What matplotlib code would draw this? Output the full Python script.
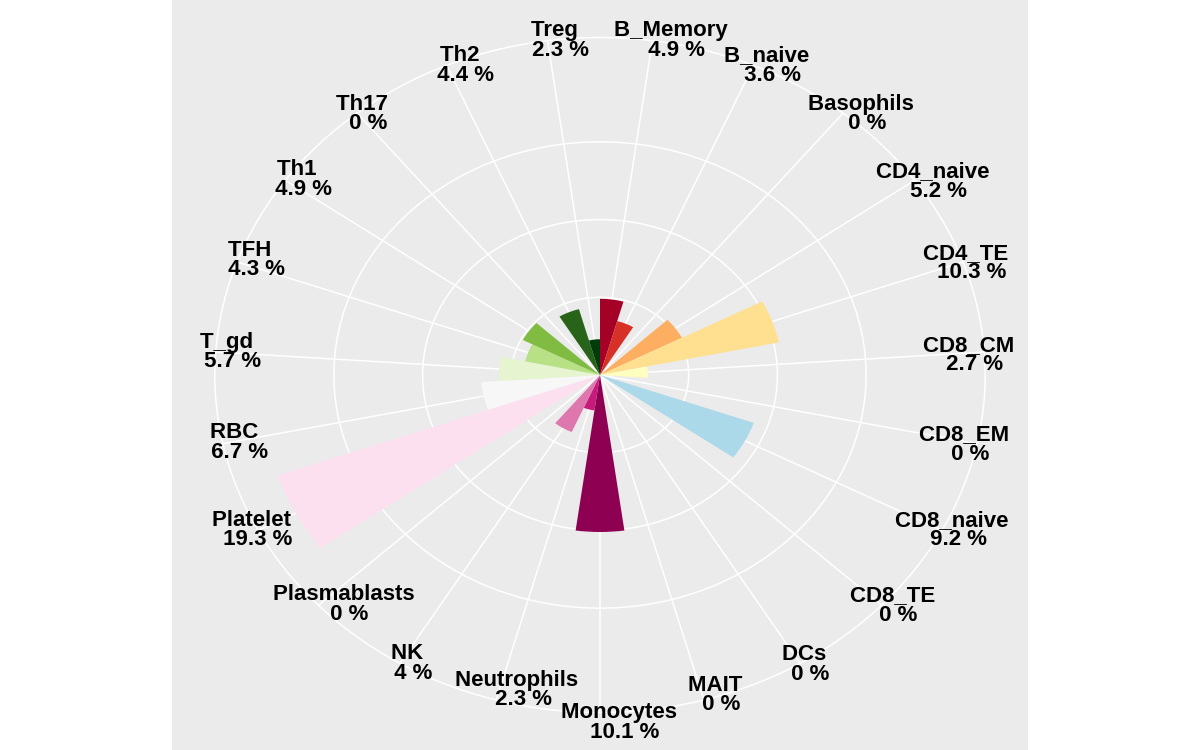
import numpy as np
import matplotlib
matplotlib.use("Agg")
import matplotlib.pyplot as plt
from matplotlib.transforms import offset_copy

categories = ["B_Memory", "B_naive", "Basophils", "CD4_naive", "CD4_TE", "CD8_CM",
              "CD8_EM", "CD8_naive", "CD8_TE", "DCs", "MAIT", "Monocytes",
              "Neutrophils", "NK", "Plasmablasts", "Platelet", "RBC", "T_gd",
              "TFH", "Th1", "Th17", "Th2", "Treg"]
percent = [4.9, 3.6, 0, 5.2, 10.3, 2.7, 0, 9.2, 0, 0, 0, 10.1,
           2.3, 4, 0, 19.3, 6.7, 5.7, 4.3, 4.9, 0, 4.4, 2.3]
colors = ["#A50026", "#D73027", "#F46D43", "#FDAE61", "#FEE090", "#FFFFBF",
          "#E0F3F8", "#ABD9E9", "#74ADD1", "#4575B4", "#313695",
          "#8E0152", "#C51B7D", "#DE77AE", "#F1B6DA", "#FDE0EF", "#F7F7F7",
          "#E6F5D0", "#B8E186", "#7FBC41", "#4D9221", "#276419", "#003D0B"]
r_breaks = [5, 10, 15]

# small pixel nudges of the labels (dx right, dy down), to follow the reference layout
label_nudge = [(21, 0), (16, 0), (21, 1), (21, 1), (6, 1), (-13, 3), (-10, 1),
               (13, 0), (14, 0), (7, 1), (14, -5), (22, 10), (24, -10), (10, 0),
               (28, -1), (-3, 0), (14, -1), (14, 0), (16, -2), (15, -1), (8, 1),
               (16, 0), (10, 0)]

n = len(categories)
ymax = max(percent)
r_outer = ymax * 0.45 / 0.4
r_lim = ymax * 0.5 / 0.4

fig = plt.figure(figsize=(12, 7.5), dpi=100)
bg = fig.add_axes([172 / 1200, 0, 856 / 1200, 1])
bg.set_facecolor("#EBEBEB")
bg.set_xticks([]); bg.set_yticks([])
for s in bg.spines.values():
    s.set_visible(False)

ax = fig.add_axes([172 / 1200, 0, 856 / 1200, 1], projection="polar")
ax.set_aspect("auto")
ax.patch.set_alpha(0)
ax.set_theta_zero_location("N")
ax.set_theta_direction(-1)
ax.set_ylim(0, r_lim)
ax.grid(False)
ax.set_xticks([]); ax.set_yticks([])
ax.spines["polar"].set_visible(False)

width = 2 * np.pi / n
theta = (np.arange(n) + 0.5) * width

# grid
tf = np.linspace(0, 2 * np.pi, 400)
for rb in r_breaks + [r_outer]:
    ax.plot(tf, np.full_like(tf, rb), color="white", lw=1.1, zorder=1)
ax.vlines(theta, 0, r_outer, color="white", lw=1.1, zorder=1)

ax.bar(theta, percent, width=width, color=colors, edgecolor="none", zorder=2)

for t, c, p, (dx, dy) in zip(theta, categories, percent, label_nudge):
    tr = offset_copy(ax.transData, fig=fig, x=dx, y=-dy, units="dots")
    ax.text(t, r_outer, f"{c} \n {p:g} %", ha="center", va="center",
            multialignment="center", fontsize=16, fontweight="bold",
            family="Liberation Sans", linespacing=0.9, zorder=3,
            transform=tr)

fig.savefig("out.png", dpi=100)
